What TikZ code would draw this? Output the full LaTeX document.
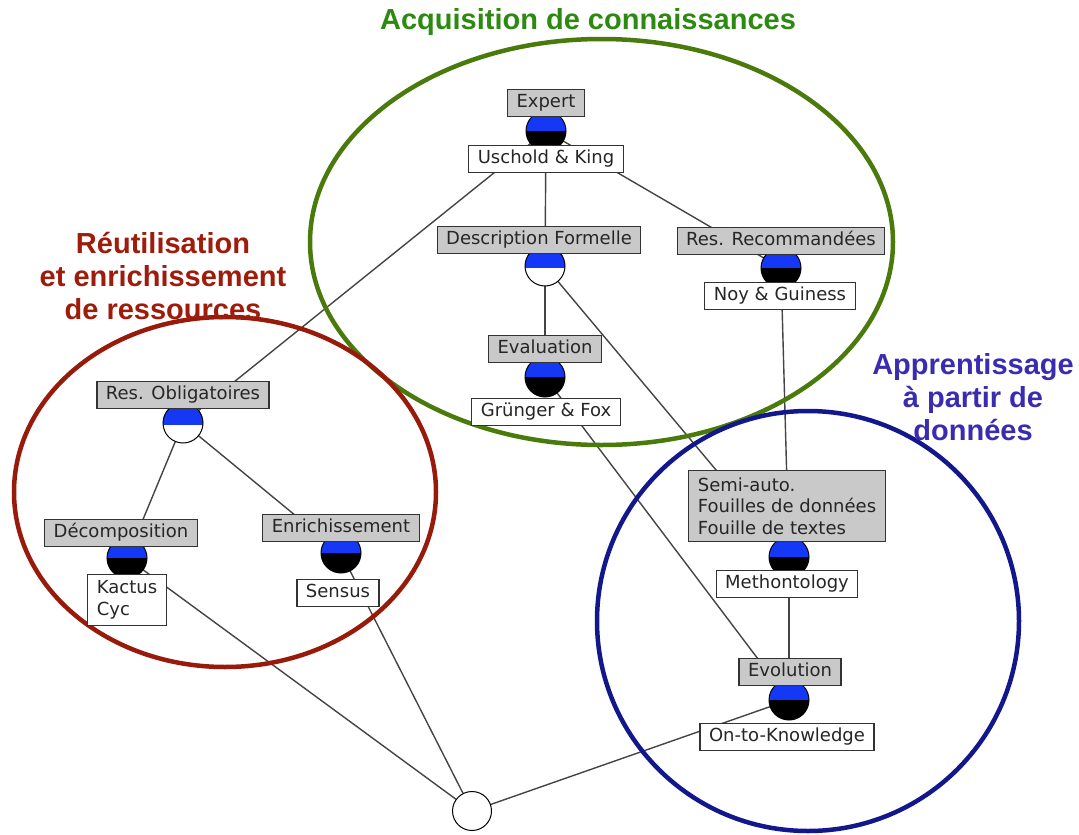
\documentclass[tikz,border=0pt]{standalone}
\usepackage{fontspec}
\usetikzlibrary{backgrounds}
\newfontfamily\labfont{DejaVu Sans}
\newfontfamily\ttlfont{Liberation Sans}
\definecolor{cblue}{HTML}{1438F5}
\definecolor{gboxfill}{HTML}{C9C9C9}
\definecolor{gborder}{HTML}{333333}
\definecolor{egreen}{HTML}{4A7A0C}
\definecolor{tgreen}{HTML}{2C8A10}
\definecolor{ered}{HTML}{981A0A}
\definecolor{tred}{HTML}{9E1C0C}
\definecolor{eblue}{HTML}{12188C}
\definecolor{tblue}{HTML}{3A2CB0}
\definecolor{edgecol}{HTML}{444444}
\tikzset{
  attrbox/.style={draw=gborder, line width=1.1pt, fill=gboxfill, font=\labfont\fontsize{18}{21.5}\selectfont,
     inner xsep=9pt, inner ysep=5pt, text height=13pt, text depth=4pt, text=black!85},
  objbox/.style={attrbox, fill=white},
  multibox/.style={draw=gborder, line width=1.1pt, fill=gboxfill, font=\labfont\fontsize{18}{21.5}\selectfont,
     inner xsep=9pt, inner ysep=4pt, align=left, text=black!85},
  conceptfull/.style={circle, draw=black, line width=1pt, minimum size=40pt, inner sep=0pt,
     path picture={\fill[black] (path picture bounding box.south west) rectangle (path picture bounding box.east);
                   \fill[cblue] (path picture bounding box.north west) rectangle (path picture bounding box.east);}},
  concepthalf/.style={circle, draw=black, line width=1pt, minimum size=40pt, inner sep=0pt, fill=white,
     path picture={\fill[cblue] (path picture bounding box.north west) rectangle ([yshift=-2pt]path picture bounding box.east);}},
  conceptempty/.style={circle, draw=black, line width=1pt, minimum size=39pt, inner sep=0pt, fill=white},
  edge/.style={draw=edgecol, line width=1.4pt},
  region/.style={line width=4.5pt},
  title/.style={font=\ttlfont\bfseries\fontsize{29}{33}\selectfont, align=center}
}
\begin{document}
\begin{tikzpicture}[x=1pt,y=-1pt]
\useasboundingbox (0,0) rectangle (1079,835);
% regions
\draw[region, egreen] (601.5,242) ellipse [x radius=291.5, y radius=203];
\draw[region, ered] (225,492) ellipse [x radius=211, y radius=175];
\draw[region, eblue] (808,621) ellipse [x radius=211, y radius=210];
% concept circles
\node[conceptfull] (cE) at (546,131) {};
\node[concepthalf] (cD) at (545,266) {};
\node[conceptfull] (cR) at (781,268) {};
\node[conceptfull] (cEv) at (545,377) {};
\node[concepthalf] (cO) at (183,423) {};
\node[conceptfull] (cDc) at (127,558) {};
\node[conceptfull] (cEn) at (341,553) {};
\node[conceptfull] (cS) at (789,557) {};
\node[conceptfull] (cEvo) at (789,700) {};
\node[conceptempty] (cB) at (472,811) {};
% edges (behind everything)
\begin{scope}[on background layer]
\draw[edge] (cE.center) -- (cD.center);
\draw[edge] (cE.center) -- (cO.center);
\draw[edge] (cE.center) -- (cR.center);
\draw[edge] (cD.center) -- (cEv.center);
\draw[edge] (cD.center) -- (cS.center);
\draw[edge] (cR.center) -- (cS.center);
\draw[edge] (cEv.center) -- (cEvo.center);
\draw[edge] (cS.center) -- (cEvo.center);
\draw[edge] (cO.center) -- (cDc.center);
\draw[edge] (cO.center) -- (cEn.center);
\draw[edge] (cDc.center) -- (cB);
\draw[edge] (cEn.center) -- (cB);
\draw[edge] (cEvo.center) -- (cB);
\end{scope}
% titles
\node[title, text=tgreen] (tA) at (588,22) {Acquisition de connaissances};
\node[title, text=tred] (tR) at (163,276) {Réutilisation\\et enrichissement\\de ressources};
\node[title, text=tblue] (tB) at (973,397) {Apprentissage\\à partir de\\données};
% attribute labels
\node[attrbox] (aExpert) at (546,103) {Expert};
\node[attrbox] (aDesc) at (539,240) {Description Formelle};
\node[attrbox] (aRec) at (781,241) {Res. Recommandées};
\node[attrbox] (aEval) at (545,349) {Evaluation};
\node[attrbox] (aObl) at (183,395) {Res. Obligatoires};
\node[attrbox] (aDec) at (121,533) {Décomposition};
\node[attrbox] (aEnr) at (341,528) {Enrichissement};
\node[multibox, minimum height=71pt] (aSemi) at (787,506) {Semi-auto.\\Fouilles de données\\Fouille de textes};
\node[attrbox] (aEvo) at (790,672) {Evolution};
% object labels
\node[objbox] (oUK) at (546,159) {Uschold \& King};
\node[objbox] (oNG) at (780,296) {Noy \& Guiness};
\node[objbox] (oGF) at (546,412) {Grünger \& Fox};
\node[multibox, fill=white, inner ysep=3pt, minimum height=51pt] (oKC) at (127,600) {Kactus\\Cyc};
\node[objbox] (oSe) at (338,593) {Sensus};
\node[objbox] (oMe) at (787,584) {Methontology};
\node[objbox] (oOK) at (787,737) {On-to-Knowledge};
\end{tikzpicture}
\end{document}
